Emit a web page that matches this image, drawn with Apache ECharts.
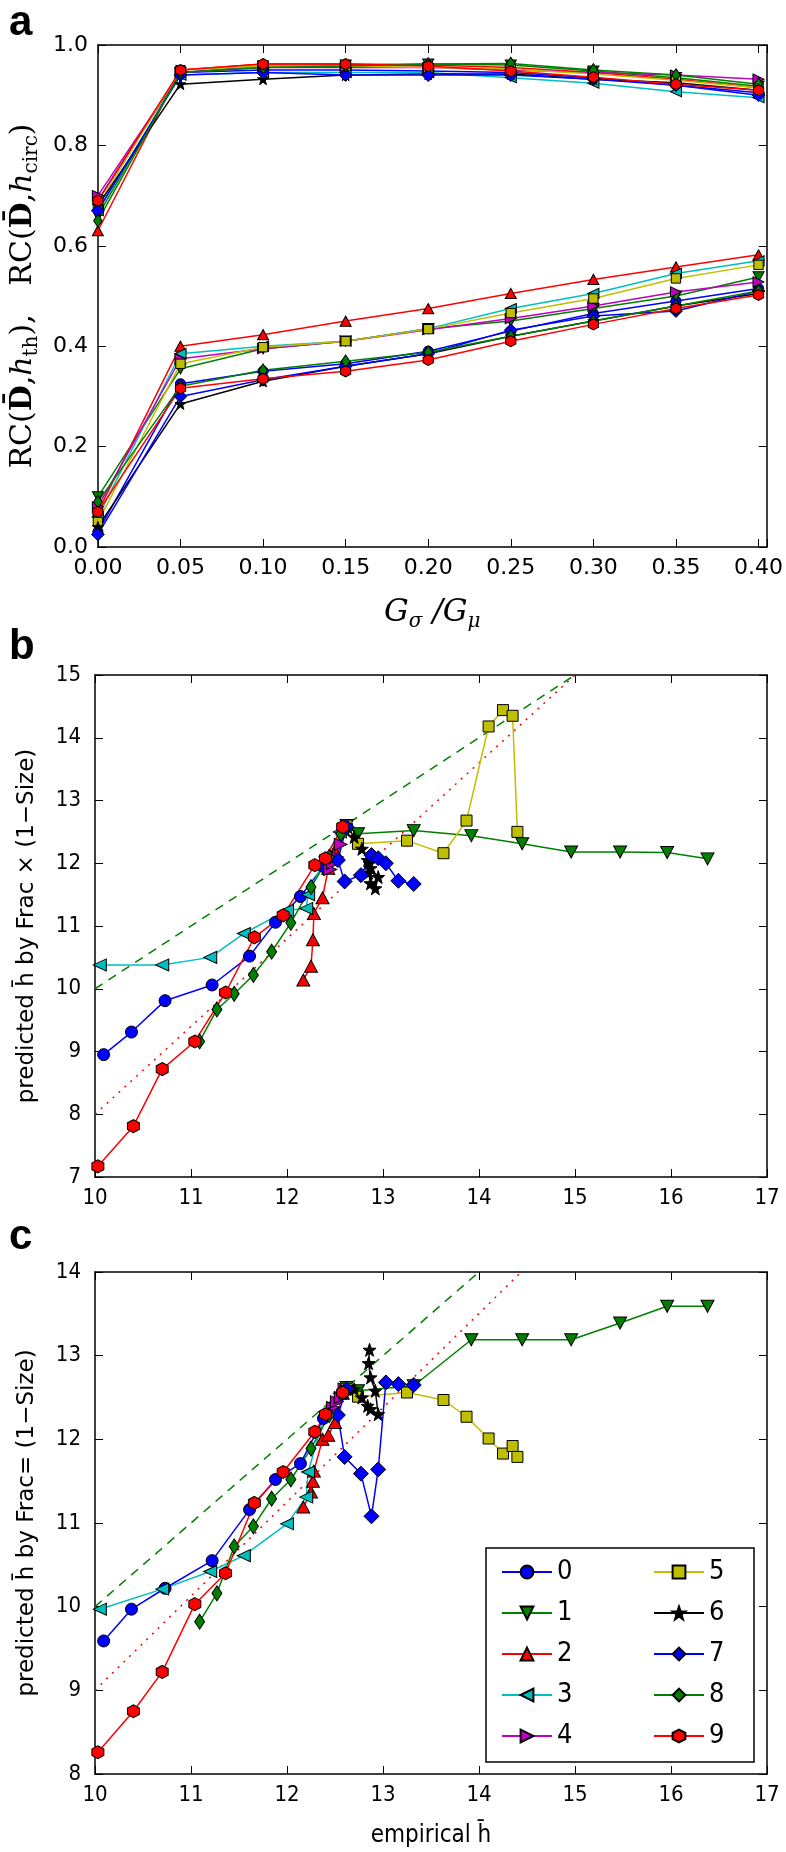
<!DOCTYPE html>
<html>
<head>
<meta charset="utf-8">
<script src="https://cdn.jsdelivr.net/npm/echarts@6.0.0/dist/echarts.min.js"></script>
<style>
  html, body { margin: 0; padding: 0; background: #fff; }
  #main { width: 786px; height: 1852px; }
</style>
</head>
<body>
<div id="main"></div>
<script>
// ---- data ----
const names = ["0", "1", "2", "3", "4", "5", "6", "7", "8", "9"];
const gsRatio = [0, 0.05, 0.1, 0.15, 0.2, 0.25, 0.3, 0.35, 0.4];

// panel a, upper curves: RC(D, h_circ)
const rcCirc = [
  [0.69, 0.945, 0.95, 0.95, 0.948, 0.945, 0.935, 0.92, 0.905],
  [0.66, 0.945, 0.958, 0.96, 0.962, 0.96, 0.948, 0.935, 0.918],
  [0.63, 0.95, 0.962, 0.962, 0.96, 0.955, 0.945, 0.932, 0.915],
  [0.67, 0.94, 0.945, 0.945, 0.945, 0.935, 0.924, 0.907, 0.895],
  [0.7, 0.945, 0.955, 0.955, 0.955, 0.95, 0.945, 0.94, 0.932],
  [0.68, 0.95, 0.958, 0.958, 0.955, 0.952, 0.942, 0.93, 0.915],
  [0.68, 0.922, 0.932, 0.94, 0.942, 0.942, 0.932, 0.925, 0.91],
  [0.67, 0.94, 0.945, 0.94, 0.94, 0.94, 0.932, 0.92, 0.9],
  [0.65, 0.945, 0.955, 0.958, 0.962, 0.963, 0.95, 0.94, 0.922],
  [0.69, 0.95, 0.962, 0.962, 0.958, 0.948, 0.936, 0.922, 0.91]
];
// panel a, lower curves: RC(D, h_th)
const rcTh = [
  [0.03, 0.325, 0.35, 0.365, 0.39, 0.43, 0.465, 0.49, 0.515],
  [0.1, 0.355, 0.395, 0.41, 0.435, 0.45, 0.475, 0.5, 0.538],
  [0.07, 0.4, 0.423, 0.45, 0.475, 0.505, 0.533, 0.558, 0.582],
  [0.06, 0.385, 0.4, 0.41, 0.435, 0.475, 0.505, 0.545, 0.57],
  [0.08, 0.375, 0.395, 0.41, 0.433, 0.455, 0.48, 0.508, 0.528],
  [0.05, 0.365, 0.398, 0.41, 0.434, 0.466, 0.495, 0.535, 0.562],
  [0.04, 0.285, 0.33, 0.36, 0.385, 0.42, 0.45, 0.48, 0.505],
  [0.025, 0.3, 0.333, 0.36, 0.385, 0.432, 0.46, 0.47, 0.51],
  [0.09, 0.32, 0.352, 0.37, 0.388, 0.42, 0.45, 0.48, 0.51],
  [0.07, 0.316, 0.335, 0.35, 0.3725, 0.41, 0.4435, 0.475, 0.502]
];

// panels b and c: empirical h (x) shared, predicted h (y) per panel
const empH = [
  [10.09, 10.38, 10.73, 11.22, 11.61, 11.88, 12.14, 12.38, 12.6],
  [12.62, 12.74, 13.32, 13.92, 14.45, 14.96, 15.47, 15.96, 16.38],
  [12.17, 12.25, 12.27, 12.28, 12.37, 12.43, 12.5, 12.58],
  [10.05, 10.7, 11.2, 11.55, 12.0, 12.2, 12.22, 12.4, 12.55],
  [12.45, 12.48, 12.52, 12.56, 12.6],
  [12.62, 12.74, 13.25, 13.63, 13.87, 14.1, 14.25, 14.35, 14.4],
  [12.62, 12.7, 12.78, 12.84, 12.87, 12.95, 12.92, 12.87, 12.85, 12.86],
  [12.62, 12.53, 12.6, 12.77, 12.88, 12.95, 13.03, 13.16, 13.32],
  [11.09, 11.27, 11.45, 11.65, 11.84, 12.04, 12.25, 12.44, 12.56],
  [10.03, 10.4, 10.7, 11.04, 11.36, 11.66, 11.96, 12.29, 12.4, 12.58]
];
const predB = [
  [8.95, 9.31, 9.81, 10.06, 10.52, 11.06, 11.47, 11.95, 12.55],
  [12.6, 12.47, 12.52, 12.44, 12.31, 12.18, 12.18, 12.17, 12.07],
  [10.14, 10.36, 10.78, 11.2, 11.45, 11.92, 12.2, 12.55],
  [10.38, 10.38, 10.5, 10.88, 11.25, 11.28, 11.5, 12.1, 12.5],
  [11.9, 12.0, 12.1, 12.3, 12.55],
  [12.6, 12.31, 12.36, 12.16, 12.68, 14.18, 14.44, 14.35, 12.5],
  [12.6, 12.42, 12.23, 12.05, 11.92, 11.78, 11.6, 11.68, 11.85, 12.0],
  [12.58, 12.05, 11.71, 11.81, 12.13, 12.08, 12.0, 11.72, 11.67],
  [9.16, 9.67, 9.92, 10.22, 10.59, 11.05, 11.62, 12.1, 12.47],
  [7.17, 7.81, 8.72, 9.16, 9.94, 10.82, 11.17, 11.97, 12.08, 12.58]
];
const predC = [
  [9.59, 9.97, 10.22, 10.55, 11.16, 11.52, 11.71, 12.25, 12.6],
  [12.62, 12.58, 12.64, 13.19, 13.19, 13.19, 13.39, 13.59, 13.59],
  [11.19, 11.37, 11.5, 11.62, 12.0, 12.05, 12.2, 12.55],
  [9.97, 10.21, 10.42, 10.61, 10.99, 11.31, 11.61, 12.33, 12.55],
  [12.3, 12.38, 12.45, 12.5, 12.6],
  [12.6, 12.51, 12.56, 12.47, 12.27, 12.01, 11.83, 11.92, 11.79],
  [12.62, 12.6, 12.5, 12.4, 12.36, 12.3, 12.58, 12.74, 12.91, 13.07],
  [12.6, 12.29, 11.79, 11.59, 11.08, 11.64, 12.68, 12.66, 12.65],
  [9.82, 10.16, 10.72, 10.96, 11.29, 11.52, 11.89, 12.29, 12.55],
  [8.26, 8.75, 9.22, 10.03, 10.4, 11.24, 11.61, 12.09, 12.3, 12.56]
];

// reference lines (end points)
const identityB = [[10, 10], [15, 15]];
const fitB = [[10, 8], [15, 15]];
const identityC = [[10, 10], [14, 14]];
const fitC = [[10, 9], [14.44, 14]];

// ---- styles ----
const colors = ["#0000ff", "#008000", "#ff0000", "#00bfbf", "#bf00bf",
  "#bfbf00", "#000000", "#0000ff", "#008000", "#ff0000"];
const STAR = "path://M0,-10L2.35,-3.24L9.51,-3.09L3.8,1.24L5.88,8.09L0,4L-5.88,8.09L-3.8,1.24L-9.51,-3.09L-2.35,-3.24Z";
const HEX = "path://M0,-10L8.66,-5L8.66,5L0,10L-8.66,5L-8.66,-5Z";
const symbols = ["circle", "triangle", "triangle", "triangle", "triangle",
  "rect", STAR, "diamond", "diamond", HEX];
const rotations = [0, 180, 0, 90, -90, 0, 0, 0, 0, 0];
const sizes = [[12, 12], [13, 12], [13, 12], [12, 13], [12, 13],
  [11, 11], [13, 13], [15, 15], [10, 15], [12, 13]];

const SANS = "DejaVu Sans";
const COND = "DejaVu Sans Condensed, DejaVu Sans";
const SERIF = "DejaVu Serif";

let myChart = echarts.init(document.getElementById("main"), null, { renderer: "canvas" });

function markSeries(i, xi, yi, data, scale) {
  return {
    name: names[i],
    type: "line",
    xAxisIndex: xi,
    yAxisIndex: yi,
    data: data,
    symbol: symbols[i],
    symbolRotate: rotations[i],
    symbolSize: sizes[i].map((s) => s * scale),
    showAllSymbol: true,
    lineStyle: { color: colors[i], width: 1.5 },
    itemStyle: { color: colors[i], borderColor: "#000", borderWidth: 1 },
    emphasis: { disabled: true },
    animation: false,
    z: 3
  };
}

function refSeries(name, xi, yi, data, color, dash) {
  return {
    name: name,
    type: "line",
    xAxisIndex: xi,
    yAxisIndex: yi,
    data: data,
    symbol: "none",
    lineStyle: { color: color, width: 1.5, type: dash },
    emphasis: { disabled: true },
    animation: false,
    z: 2
  };
}

let series = [];
// panel c first so the legend takes these symbols
series.push(refSeries("ideal c", 4, 4, identityC, "#008000", [9, 7]));
series.push(refSeries("fit c", 4, 4, fitC, "#ff0000", [2, 6]));
names.forEach((n, i) => {
  series.push(markSeries(i, 4, 4, empH[i].map((x, k) => [x, predC[i][k]]), 1));
});
// panel a
names.forEach((n, i) => {
  series.push(markSeries(i, 0, 0, gsRatio.map((g, k) => [g, rcCirc[i][k]]), 0.85));
  series.push(markSeries(i, 0, 0, gsRatio.map((g, k) => [g, rcTh[i][k]]), 0.85));
});
// panel b
series.push(refSeries("ideal b", 2, 2, identityB, "#008000", [9, 7]));
series.push(refSeries("fit b", 2, 2, fitB, "#ff0000", [2, 6]));
names.forEach((n, i) => {
  series.push(markSeries(i, 2, 2, empH[i].map((x, k) => [x, predB[i][k]]), 1));
});

const tickIn = { show: true, inside: true, length: 8, lineStyle: { color: "#000", width: 1 } };
const frameLine = { show: true, onZero: false, lineStyle: { color: "#000", width: 1.5 } };

function axisPair(kind, grid, min, max, interval, label, extra) {
  let main = Object.assign({
    type: "value", gridIndex: grid, min: min, max: max, interval: interval,
    axisLine: frameLine, axisTick: tickIn, splitLine: { show: false },
    axisLabel: label
  }, extra);
  let opp = {
    type: "value", gridIndex: grid, min: min, max: max, interval: interval,
    position: kind === "x" ? "top" : "right",
    axisLine: frameLine, axisTick: tickIn, splitLine: { show: false },
    axisLabel: { show: false }
  };
  return [main, opp];
}

const mathRich = (size, sub) => ({
  t: { fontFamily: SERIF, fontSize: size, color: "#000", lineHeight: size + 8, verticalAlign: "middle" },
  b: { fontFamily: SERIF, fontWeight: "bold", fontSize: size, color: "#000", lineHeight: size + 8, verticalAlign: "middle" },
  i: { fontFamily: SERIF, fontStyle: "italic", fontSize: size, color: "#000", lineHeight: size + 8, verticalAlign: "middle" },
  s: { fontFamily: SERIF, fontSize: sub, color: "#000", lineHeight: sub, verticalAlign: "bottom" },
  si: { fontFamily: SERIF, fontStyle: "italic", fontSize: sub, color: "#000", lineHeight: sub, verticalAlign: "bottom" }
});

let xAxes = [], yAxes = [];
// panel a
xAxes.push(...axisPair("x", 0, 0, 0.405, 0.05, {
  color: "#000", fontFamily: SANS, fontSize: 22, margin: 10,
  formatter: (v) => (Math.abs(v * 20 - Math.round(v * 20)) < 1e-6 ? v.toFixed(2) : "")
}, {
  name: "{i|G}{si|σ}{i| /}{i|G}{si|μ}",
  nameLocation: "middle", nameGap: 46,
  nameTextStyle: { rich: mathRich(31, 20) }
}));
yAxes.push(...axisPair("y", 0, 0, 1, 0.2, {
  color: "#000", fontFamily: SANS, fontSize: 22, margin: 10,
  formatter: (v) => v.toFixed(1)
}, {
  name: "{t|RC(}{b|D\u0304}{t|,}{i|h}{s|th}{t|),   RC(}{b|D\u0304}{t|,}{i|h}{s|circ}{t|)}",
  nameLocation: "middle", nameGap: 55,
  nameTextStyle: { rich: mathRich(30, 20) }
}));
// panel b
const hLabel = { color: "#000", fontFamily: COND, fontSize: 22, margin: 10 };
xAxes.push(...axisPair("x", 1, 10, 17, 1, hLabel, {}));
yAxes.push(...axisPair("y", 1, 7, 15, 1, Object.assign({}, hLabel, { margin: 14 }), {
  name: "predicted h\u0304 by Frac \u00d7 (1\u2212Size)",
  nameLocation: "middle", nameGap: 56,
  nameTextStyle: { fontFamily: SANS, fontSize: 23, color: "#000" }
}));
// panel c
xAxes.push(...axisPair("x", 2, 10, 17, 1, hLabel, {
  name: "empirical h\u0304",
  nameLocation: "middle", nameGap: 50,
  nameTextStyle: { fontFamily: COND, fontSize: 24, color: "#000" }
}));
yAxes.push(...axisPair("y", 2, 8, 14, 1, Object.assign({}, hLabel, { margin: 14 }), {
  name: "predicted h\u0304 by Frac= (1\u2212Size)",
  nameLocation: "middle", nameGap: 56,
  nameTextStyle: { fontFamily: SANS, fontSize: 23, color: "#000" }
}));

let option = {
  backgroundColor: "#fff",
  animation: false,
  grid: [
    { left: 95, width: 672, top: 45, height: 502 },
    { left: 95, width: 672, top: 675, height: 502 },
    { left: 95, width: 672, top: 1272, height: 502 }
  ],
  xAxis: xAxes,
  yAxis: yAxes,
  legend: {
    // two columns of five: first column items carry a wide text box
    data: names.map((n, i) => ({ name: n, textStyle: { width: i < 5 ? 89 : 20 } })),
    orient: "vertical",
    left: 486,
    top: 1548,
    height: 200,
    padding: [7, 25, 9, 15],
    itemWidth: 50,
    itemHeight: 16,
    itemGap: 7,
    selectedMode: false,
    backgroundColor: "#fff",
    borderColor: "#000",
    borderWidth: 1.5,
    borderRadius: 0,
    textStyle: { fontFamily: COND, fontSize: 27, color: "#000", lineHeight: 34 }
  },
  graphic: [
    { type: "text", left: 9, top: 2, style: { text: "a", font: "bold 42px Liberation Sans", fill: "#000" } },
    { type: "text", left: 9, top: 626, style: { text: "b", font: "bold 42px Liberation Sans", fill: "#000" } },
    { type: "text", left: 9, top: 1216, style: { text: "c", font: "bold 42px Liberation Sans", fill: "#000" } }
  ],
  series: series
};

myChart.setOption(option);
</script>
</body>
</html>
